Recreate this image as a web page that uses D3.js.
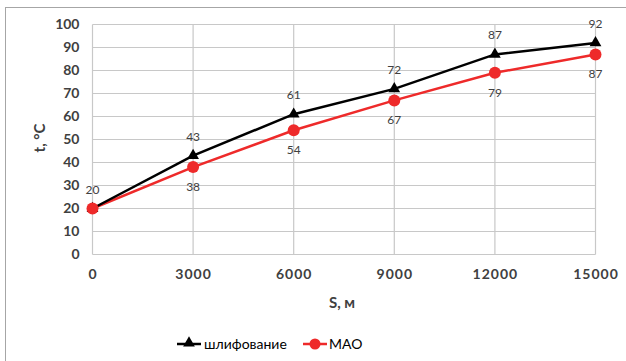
<!DOCTYPE html>
<html><head><meta charset="utf-8">
<script src="https://cdn.jsdelivr.net/npm/d3@7"></script>
<style>body{margin:0;background:#fff;}svg{display:block;}</style>
</head><body>
<script>
const distances = [0, 3000, 6000, 9000, 12000, 15000];
const grinding = [20, 43, 61, 72, 87, 92];
const mao = [20, 38, 54, 67, 79, 87];
const seriesNames = ["шлифование", "МАО"];
const yTicks = [0,10,20,30,40,50,60,70,80,90,100];

const W = 626, H = 361;
const svg = d3.select("body").append("svg").attr("width", W).attr("height", H);
svg.append("rect").attr("width", W).attr("height", H).attr("fill", "#fff");
// outer frame (extends beyond right/bottom)
svg.append("rect").attr("x", 5.5).attr("y", 7.5).attr("width", 640).attr("height", 380)
  .attr("fill", "none").attr("stroke", "#a6a6a6").attr("stroke-width", 1);

const x = d3.scaleLinear().domain([0, 15000]).range([92.5, 595.5]);
const y = d3.scaleLinear().domain([0, 100]).range([254.5, 24.5]);
const font = "Lato, 'Open Sans', sans-serif";
const txt = "#404040";

// gridlines
const g = svg.append("g");
g.selectAll("line.h").data(yTicks).join("line")
  .attr("x1", x(0)).attr("x2", x(15000)).attr("y1", d => y(d)).attr("y2", d => y(d))
  .attr("stroke", "#c8c8c8").attr("stroke-width", 1.2);
g.selectAll("line.v").data(distances).join("line")
  .attr("x1", d => x(d)).attr("x2", d => x(d)).attr("y1", y(0)).attr("y2", y(100))
  .attr("stroke", "#c8c8c8").attr("stroke-width", 1.2);

// axes
const yAxis = d3.axisLeft(y).tickValues(yTicks).tickSize(0).tickPadding(13);
const ya = svg.append("g").attr("transform", `translate(${x(0)},0)`).call(yAxis);
ya.select(".domain").remove();
ya.selectAll("text").attr("font-family", font).attr("font-size", 14).attr("font-weight", "bold").attr("fill", txt);

const xAxis = d3.axisBottom(x).tickValues(distances).tickSize(0).tickPadding(15).tickFormat(d3.format("d"));
const xa = svg.append("g").attr("transform", `translate(0,${y(0)})`).call(xAxis);
xa.select(".domain").remove();
xa.selectAll("text").attr("font-family", font).attr("font-size", 14).attr("font-weight", "bold").attr("fill", txt).attr("letter-spacing", 1);

// axis titles
svg.append("text").attr("transform", `translate(45,138) rotate(-90)`).attr("text-anchor", "middle")
  .attr("font-family", font).attr("font-size", 15).attr("font-weight", "bold").attr("fill", txt).text("t, °C");
svg.append("text").attr("x", 342).attr("y", 308).attr("text-anchor", "middle")
  .attr("font-family", font).attr("font-size", 15).attr("font-weight", "bold").attr("fill", txt).text("S, м");

const line = d3.line().x(d => x(d[0])).y(d => y(d[1]));
const redC = "#ee2a2a";
const grindPts = distances.map((d, i) => [d, grinding[i]]);
const maoPts = distances.map((d, i) => [d, mao[i]]);

svg.append("path").datum(maoPts).attr("d", line).attr("fill", "none").attr("stroke", redC).attr("stroke-width", 2.5);
svg.append("path").datum(grindPts).attr("d", line).attr("fill", "none").attr("stroke", "#000").attr("stroke-width", 2.5);

const tri = d3.symbol().type(d3.symbolTriangle).size(60);
svg.selectAll("path.tri").data(grindPts).join("path")
  .attr("transform", d => `translate(${x(d[0])},${y(d[1])})`).attr("d", tri).attr("fill", "#000");
svg.selectAll("circle.mao").data(maoPts).join("circle")
  .attr("cx", d => x(d[0])).attr("cy", d => y(d[1])).attr("r", 6).attr("fill", redC);

// data labels
svg.selectAll("text.gl").data(grindPts).join("text")
  .attr("x", d => x(d[0])).attr("y", d => y(d[1]) - 15).attr("text-anchor", "middle")
  .attr("font-family", font).attr("font-size", 12).attr("fill", txt).text(d => d[1]);
svg.selectAll("text.ml").data(maoPts.slice(1)).join("text")
  .attr("x", d => x(d[0])).attr("y", d => y(d[1]) + 24).attr("text-anchor", "middle")
  .attr("font-family", font).attr("font-size", 12).attr("fill", txt).text(d => d[1]);

// legend
const lg = svg.append("g");
lg.append("line").attr("x1", 177).attr("x2", 201).attr("y1", 344).attr("y2", 344).attr("stroke", "#000").attr("stroke-width", 2.5);
lg.append("path").attr("transform", "translate(189,343)").attr("d", tri).attr("fill", "#000");
lg.append("text").attr("x", 204).attr("y", 349).attr("font-family", font).attr("font-size", 14).attr("fill", "#000").text(seriesNames[0]);
lg.append("line").attr("x1", 303).attr("x2", 327).attr("y1", 344).attr("y2", 344).attr("stroke", redC).attr("stroke-width", 2.5);
lg.append("circle").attr("cx", 315).attr("cy", 344).attr("r", 5.5).attr("fill", redC);
lg.append("text").attr("x", 329).attr("y", 349).attr("font-family", font).attr("font-size", 14).attr("fill", "#000").text(seriesNames[1]);
</script>
</body></html>
